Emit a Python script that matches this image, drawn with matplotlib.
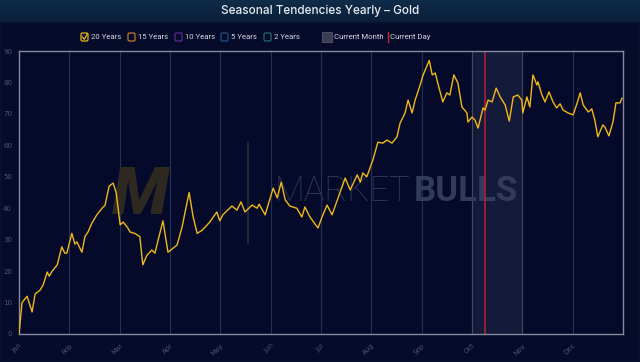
import numpy as np
import matplotlib
matplotlib.use('Agg')
import matplotlib.pyplot as plt
from matplotlib.patches import Rectangle, FancyBboxPatch

# seasonal curve for 20 years, x = months since 1 Jan, y = seasonal index
pos = [0.00, 0.06, 0.16, 0.26, 0.32, 0.42, 0.48, 0.56, 0.60, 0.66, 0.76, 0.85, 0.91, 0.95,
       1.05, 1.11, 1.15, 1.25, 1.31, 1.37, 1.45, 1.55, 1.65, 1.71, 1.79, 1.87, 1.93,
       2.01, 2.07, 2.15, 2.21, 2.30, 2.40, 2.46, 2.54, 2.64, 2.70, 2.86, 2.96,
       3.14, 3.24, 3.30, 3.38, 3.46, 3.54, 3.64, 3.74, 3.79, 3.93,
       3.99, 4.05, 4.23, 4.33, 4.41, 4.49, 4.63, 4.73, 4.77, 4.89,
       5.05, 5.13, 5.21, 5.29, 5.38, 5.52, 5.62, 5.68, 5.78, 5.94,
       6.02, 6.12, 6.22, 6.34, 6.48, 6.58, 6.72, 6.78, 6.83, 6.91,
       7.03, 7.13, 7.23, 7.31, 7.41, 7.51, 7.57, 7.67, 7.73, 7.81, 7.87, 7.95,
       8.03, 8.15, 8.21, 8.27, 8.32, 8.42, 8.50, 8.56, 8.64, 8.72, 8.80, 8.90, 8.92,
       9.00, 9.06, 9.12, 9.22, 9.26, 9.32, 9.40, 9.48, 9.56, 9.66, 9.74, 9.82, 9.91, 9.99,
       10.01, 10.09, 10.15, 10.21, 10.29, 10.31, 10.39, 10.45, 10.53, 10.61, 10.68, 10.75,
       10.81, 10.91, 11.01, 11.09, 11.15, 11.21, 11.31, 11.38, 11.44, 11.50, 11.60, 11.64,
       11.72, 11.80, 11.86, 11.94, 11.98]
gold20 = [0.0, 10.0, 12.0, 7.0, 12.7, 14.0, 15.6, 19.7, 18.4, 20.0, 22.0, 27.7, 25.7, 25.7,
          32.0, 28.6, 29.3, 26.0, 31.0, 32.4, 35.3, 38.0, 40.0, 41.0, 47.0, 48.0, 45.0,
          34.7, 35.6, 34.0, 32.4, 32.0, 31.0, 22.0, 25.0, 26.7, 25.7, 36.0, 26.0,
          28.3, 34.0, 38.8, 45.0, 37.2, 32.0, 33.0, 34.7, 35.6, 38.8,
          36.0, 37.9, 40.7, 39.4, 42.0, 38.8, 41.0, 40.0, 41.3, 37.9,
          46.4, 43.3, 48.3, 42.6, 40.7, 40.0, 37.2, 40.4, 37.2, 33.7,
          37.2, 41.0, 37.9, 43.3, 49.6, 45.8, 50.6, 48.3, 51.2, 50.0,
          55.3, 61.0, 60.7, 61.7, 60.7, 62.7, 67.0, 70.3, 74.4, 70.3, 74.4, 78.2,
          82.4, 87.0, 82.4, 83.0, 79.8, 73.8, 76.7, 76.0, 82.4, 79.8, 72.2, 70.3, 67.4,
          69.0, 68.0, 65.5, 71.9, 71.2, 74.4, 73.8, 78.2, 75.4, 72.8, 67.7, 75.4, 76.0, 74.4,
          70.3, 75.4, 72.2, 82.4, 79.2, 80.2, 76.0, 73.8, 77.0, 73.8, 71.9, 73.2,
          71.2, 70.3, 69.7, 73.5, 76.7, 72.8, 70.6, 71.6, 68.0, 62.7, 66.5, 65.8,
          63.0, 67.4, 73.5, 73.5, 75.0]

months = ['Jan', 'Feb', 'Mar', 'Apr', 'May', 'Jun', 'Jul', 'Aug', 'Sep', 'Oct', 'Nov', 'Dec']
yticks = [0, 10, 20, 30, 40, 50, 60, 70, 80, 90]
legend_names = ['20 Years', '15 Years', '10 Years', '5 Years', '2 Years']
legend_colors = ['#e8b21c', '#c9772a', '#5a2a9a', '#1f4f8a', '#1f6a70']
current_month = 9      # Oct
current_day = 9.26

W, H = 640, 362
fig = plt.figure(figsize=(W / 100, H / 100), dpi=100)
fig.patch.set_facecolor('#06112e')

# title band with soft gradient
bg = fig.add_axes([0, 0, 1, 1])
bg.set_xlim(0, W)
bg.set_ylim(H, 0)
bg.axis('off')
grad = np.linspace(0, 1, 50).reshape(-1, 1)
bg.imshow(grad, extent=[0, W, 22, 0], aspect='auto',
          cmap=matplotlib.colors.LinearSegmentedColormap.from_list('t', ['#0f2c48', '#0a1f3b']))
bg.add_patch(FancyBboxPatch((2, 24), W - 4, H - 26, boxstyle='round,pad=0,rounding_size=6',
                            facecolor='#050b29', edgecolor='none'))
bg.text(W / 2, 11, 'Seasonal Tendencies Yearly – Gold', color='#e6eaf2', fontsize=8.5,
        ha='center', va='center', family='Inter', fontweight='medium')

# legend row
lf = dict(color='#d3d7e2', fontsize=5.6, va='center', family='Roboto')
lx = [81, 128, 175, 221, 264]
for x0, name, c in zip(lx, legend_names, legend_colors):
    bg.add_patch(FancyBboxPatch((x0, 33), 7, 8, boxstyle='round,pad=0,rounding_size=1.5',
                                facecolor='none', edgecolor=c, lw=0.9))
    bg.text(x0 + 10, 37.3, name, **lf)
bg.plot([82.5, 84.3, 87.2], [37, 39.3, 34.3], color='#e8b21c', lw=0.9)
bg.add_patch(Rectangle((322, 32), 10, 10, facecolor='#3a3d52', edgecolor='#55586a', lw=0.6))
bg.text(334, 37.3, 'Current Month', **lf)
bg.plot([388, 388], [32, 42], color='#c0283a', lw=1)
bg.text(390.5, 37.3, 'Current Day', **lf)

# main chart
ax = fig.add_axes([19 / W, 1 - 334 / H, 604 / W, 283 / H])
ax.set_facecolor('#050a2a')
ax.set_xlim(0, 12)
ax.set_ylim(0, 90)

for m in range(1, 12):
    col = '#4a4752' if m in (current_month, current_month + 1) else '#263051'
    ax.axvline(m, color=col, lw=0.8, zorder=1)
ax.axvspan(current_month, current_month + 1, color='#141a3a', zorder=0)
ax.axvline(current_day, color='#b3223a', lw=1.1, zorder=2)

# watermark
ax.text(0.424, 0.505, 'MARKET', transform=ax.transAxes, fontsize=25, color='#2f3756',
        family='Roboto', fontweight='light', va='center', zorder=1)
ax.text(0.653, 0.505, 'BULLS', transform=ax.transAxes, fontsize=25, color='#333b5a',
        family='Roboto', fontweight='bold', va='center', zorder=1)
ax.text(0.2, 0.49, 'M', transform=ax.transAxes, fontsize=48, color='#2e2920',
        family='Roboto', fontweight='black', style='italic', va='center', ha='center', zorder=1)
ax.plot([0.379, 0.379], [0.32, 0.68], transform=ax.transAxes, color='#2a2c3a', lw=1.2, zorder=1)

ax.plot(pos, gold20, color='#f0b818', lw=1.0, zorder=3)

for s in ax.spines.values():
    s.set_color('#858aa0')
    s.set_linewidth(1)
ax.set_yticks(yticks)
ax.set_xticks(range(12))
ax.set_xticklabels(months, rotation=45, ha='right', rotation_mode='anchor')
ax.tick_params(length=0, labelsize=5, colors='#4c5574', pad=5)
ax.tick_params(axis='x', pad=6)

fig.savefig('out.png', dpi=100, facecolor=fig.get_facecolor())
